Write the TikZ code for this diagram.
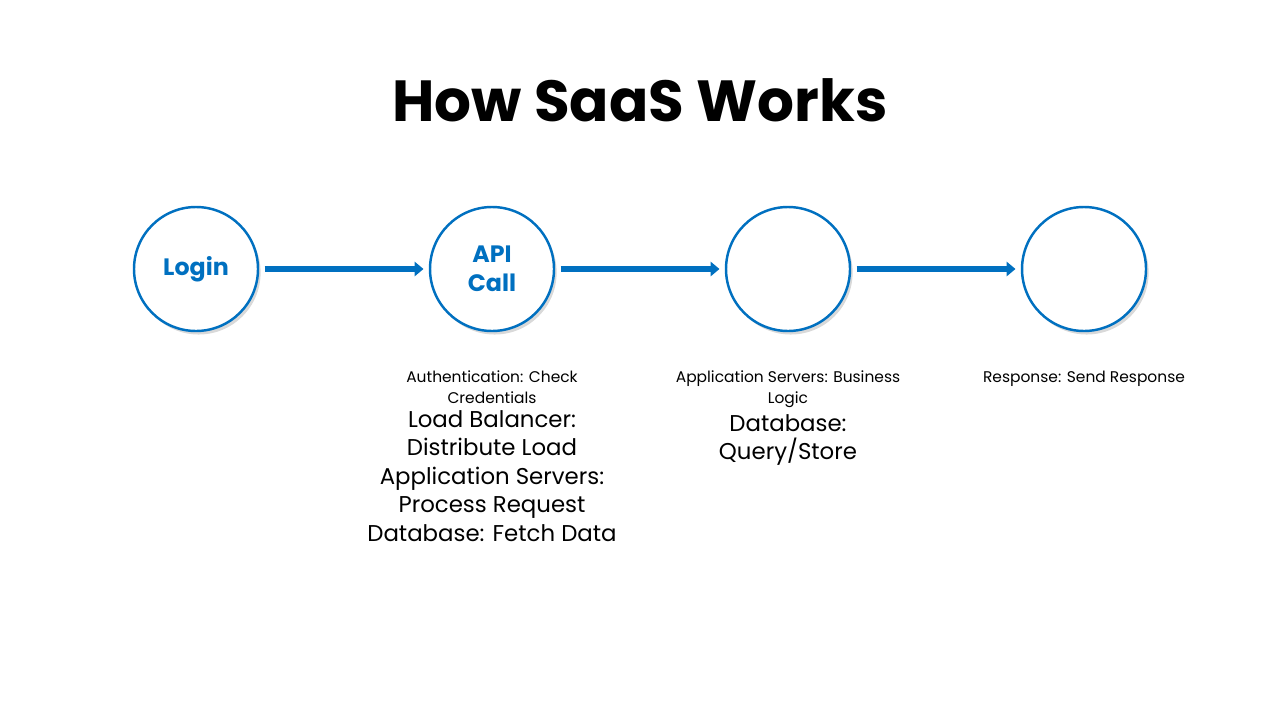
\documentclass[tikz,border=0pt]{standalone}
\usepackage{fontspec}
\setmainfont{Poppins}
\usetikzlibrary{shadows,arrows.meta,positioning}
\definecolor{myblue}{HTML}{0070C0}
\begin{document}
\begin{tikzpicture}[x=0.02cm,y=-0.02cm,
  stage/.style={circle,draw=myblue,line width=1.4pt,fill=white,minimum size=124*0.02cm,inner sep=0pt,
    drop shadow={shadow xshift=1.5pt,shadow yshift=-2pt,opacity=0.3},
    font=\fontsize{13.5}{16.5}\selectfont\bfseries,text=myblue,align=center},
  conn/.style={myblue,line width=3.4pt,-{Triangle[length=5pt,width=8pt]},shorten <=3pt,shorten >=3pt},
  small/.style={font=\fontsize{8.8}{11.5}\selectfont,align=center,anchor=north},
  big/.style={font=\fontsize{13}{16.2}\selectfont,align=center,anchor=north}]
\useasboundingbox (0,0) rectangle (1280,720);
\node[font=\fontsize{33}{40}\selectfont\bfseries] (title) at (640,100) {How SaaS Works};
\node[stage] (a) at (196,269) {Login};
\node[stage] (b) at (492,269) {API\\Call};
\node[stage] (c) at (788,269) {};
\node[stage] (d) at (1084,269) {};
\draw[conn] (a) -- (b);
\draw[conn] (b) -- (c);
\draw[conn] (c) -- (d);
\node[small] (t1) at (492,365) {Authentication: Check\\Credentials};
\node[big,below=-3pt of t1] (t2) {Load Balancer:\\Distribute Load\\Application Servers:\\Process Request\\Database: Fetch Data};
\node[small] (t3) at (788,365) {Application Servers: Business\\Logic};
\node[big,below=-3pt of t3] (t4) {Database:\\Query/Store};
\node[small] (t5) at (1084,365) {Response: Send Response};
\end{tikzpicture}
\end{document}
